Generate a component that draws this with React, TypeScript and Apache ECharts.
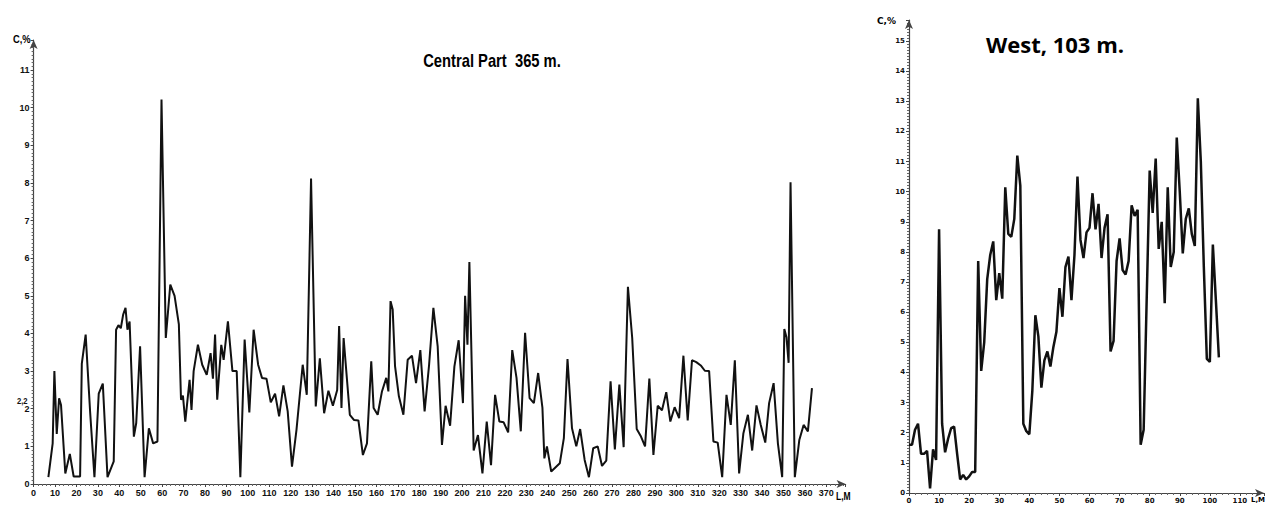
import React, { useEffect, useRef } from "react";
import * as echarts from "echarts";

// Central Part, 365 m: distance L (m) and content C (%)
const centralL = [
  6.9, 8.9, 9.7, 10.8, 11.9, 12.8, 14.8, 16.9, 18.7, 21.7, 22.5, 24.3, 26.4, 28.4, 30.4, 32.3, 34.5, 37.4, 38.5, 39.6,
  40.7, 41.8, 42.9, 43.8, 44.8, 46.8, 47.9, 49.7, 51.8, 53.8, 55.8, 57.8, 59.7, 61.7, 63.8, 65.8, 67.8, 68.8, 69.7, 70.8,
  72.8, 73.7, 74.7, 76.7, 78.7, 80.8, 82.6, 83.7, 84.7, 85.7, 87.6, 88.7, 90.7, 92.8, 94.8, 96.5,
  98.5, 100.7, 102.7, 104.8, 106.6, 108.7, 110.7, 112.7, 114.6, 116.6, 118.6, 120.6, 122.7, 125.6, 127.5, 129.5, 131.7, 133.6, 135.6, 137.6,
  139.7, 141.7, 142.6, 143.7, 144.7, 147.6, 149.6, 151.6, 153.7, 155.6, 157.6, 158.7, 160.6, 162.6, 164.6, 165.6, 166.6, 167.6, 168.7, 170.5,
  172.6, 174.6, 176.6, 178.5, 180.5, 182.5, 184.6, 186.6, 188.6, 190.6,
  192.3, 194.4, 196.4, 198.4, 200.4, 201.4, 202.5, 203.4, 205.4, 207.4, 209.5, 211.5, 213.5, 215.4, 217.4, 219.4, 221.5, 223.4, 225.4, 227.4,
  229.4, 231.5, 233.5, 235.5, 237.5, 238.4, 239.6, 241.6, 245.6, 247.5, 249.2, 251.3, 253.3, 255.1, 257.2, 259.2, 261.2, 263.3, 265.3, 267.3,
  269.3, 271.3, 273.4, 275.4, 277.4, 279.4, 281.5, 283.5, 285.4, 287.4,
  289.3, 291.3, 293.3, 295.3, 297.2, 299.2, 301.3, 303.3, 305.3, 307.3, 309.3, 311.4, 313.3, 315.3, 317.3, 319.3, 321.4, 323.4, 325.4, 327.3,
  329.3, 331.3, 333.4, 335.4, 337.4, 339.4, 341.5, 343.3, 345.4, 347.4, 349.4, 350.4, 351.4, 352.4, 353.3, 355.3, 357.4, 359.4, 361.4, 363.3,
];
const centralC = [
  0.18, 1.08, 3.0, 1.33, 2.28, 2.1, 0.28, 0.8, 0.2, 0.2, 3.2, 3.97, 1.9, 0.18, 2.4, 2.67, 0.18, 0.6, 4.1, 4.22,
  4.14, 4.5, 4.68, 4.1, 4.32, 1.26, 1.62, 3.66, 0.18, 1.48, 1.08, 1.13, 10.22, 3.88, 5.3, 5.0, 4.24, 2.24, 2.35, 1.66,
  2.77, 1.97, 3.0, 3.7, 3.17, 2.9, 3.48, 2.8, 3.97, 2.24, 3.7, 3.3, 4.32, 3.0, 3.0, 0.18,
  3.84, 1.9, 4.1, 3.17, 2.82, 2.8, 2.17, 2.4, 1.8, 2.62, 1.93, 0.46, 1.44, 3.17, 2.37, 8.12, 2.06, 3.34, 1.88, 2.48,
  2.08, 2.5, 4.2, 2.02, 3.88, 1.84, 1.7, 1.69, 0.77, 1.08, 3.26, 2.02, 1.84, 2.46, 2.82, 2.46, 4.86, 4.64, 3.13, 2.33,
  1.84, 3.3, 3.41, 2.68, 3.56, 1.93, 3.17, 4.68, 3.66, 1.04,
  2.08, 1.55, 3.12, 3.82, 2.15, 5.0, 3.7, 5.9, 0.89, 1.3, 0.28, 1.66, 0.5, 2.37, 1.66, 1.64, 1.37, 3.56, 2.82, 1.4,
  4.02, 2.28, 2.15, 2.95, 2.02, 0.68, 1.0, 0.33, 0.55, 1.22, 3.32, 1.48, 1.0, 1.46, 0.64, 0.18, 0.95, 1.0, 0.48, 0.62,
  2.73, 0.92, 2.64, 0.98, 5.24, 3.88, 1.46, 1.26, 1.0, 2.8,
  0.77, 2.08, 1.96, 2.44, 1.66, 2.04, 1.75, 3.41, 1.69, 3.29, 3.24, 3.15, 3.01, 3.0, 1.13, 1.1, 0.18, 2.37, 1.57, 3.29,
  0.28, 1.35, 1.84, 0.89, 2.09, 1.57, 1.1, 2.15, 2.68, 1.08, 0.18, 4.12, 3.9, 3.22, 8.02, 0.18, 1.17, 1.57, 1.4, 2.55,
];
const centralMean = 2.2;
const centralMeanLabel = "2,2";

// West, 103 m
const westL = [
  0, 1, 2, 3, 4, 5, 6, 7, 8, 9, 10, 11, 12, 13, 14, 15, 16, 17, 18, 19, 20, 21, 22, 23, 24, 25, 26, 27, 28, 29,
  30, 31, 32, 33, 34, 35, 36, 37, 38, 39, 40, 41, 42, 43, 44, 45, 46, 47, 48, 49, 50, 51, 52, 53, 54, 55, 56, 57, 58, 59,
  60, 61, 62, 63, 64, 65, 66, 67, 68, 69, 70, 71, 72, 73, 74, 75, 76, 77, 78, 80, 81, 82, 83, 84, 85, 86, 87, 88, 89,
  90, 91, 92, 93, 94, 95, 96, 97, 98, 99, 100, 101, 102, 103,
];
const westC = [
  1.6, 1.6, 2.1, 2.3, 1.3, 1.3, 1.4, 0.15, 1.45, 1.1, 8.75, 2.3, 1.35, 1.8, 2.15, 2.2, 1.3, 0.45, 0.6, 0.45, 0.55, 0.7, 0.7, 7.7, 4.05, 5.0, 7.1, 7.9, 8.35, 6.4,
  7.3, 6.45, 10.15, 8.6, 8.5, 9.1, 11.2, 10.2, 2.3, 2.05, 1.95, 3.4, 5.9, 5.2, 3.5, 4.4, 4.7, 4.2, 4.85, 5.35, 6.8, 5.85, 7.5, 7.85, 6.4, 7.9, 10.5, 8.4, 7.8, 8.65,
  8.8, 9.95, 8.75, 9.6, 7.8, 8.8, 9.25, 4.7, 5.05, 7.7, 8.45, 7.4, 7.25, 7.7, 9.55, 9.2, 9.4, 1.6, 2.1, 10.7, 9.3, 11.1, 8.1, 9.0, 6.3, 10.15, 7.5, 8.0, 11.8,
  10.0, 7.95, 9.1, 9.45, 8.6, 8.2, 13.1, 11.0, 7.5, 4.45, 4.35, 8.25, 6.4, 4.5,
];

const titles = ["Central Part  365 m.", "West, 103 m."];
const yName = "C,%";
const xName = "L,M";

const narrow = '"Liberation Sans Narrow", "Liberation Sans", Arial, sans-serif';

function axisCommon(fontFamily: string, fontSize: number) {
  return {
    axisLine: {
      show: true,
      symbol: ["none", "arrow"],
      symbolSize: [6, 9],
      lineStyle: { color: "#444", width: 1.2 },
    },
    axisTick: { show: true, length: 3, lineStyle: { color: "#444", width: 1 } },
    minorTick: { show: true, splitNumber: 5, length: 2, lineStyle: { color: "#666", width: 1 } },
    splitLine: { show: false },
    axisLabel: {
      color: "#111",
      fontFamily,
      fontWeight: "bold" as const,
      fontSize,
      margin: 4,
      showMaxLabel: false,
    },
  };
}

export default function App() {
  const ref = useRef<HTMLDivElement>(null);
  useEffect(() => {
    if (!ref.current) return;
    const chart = echarts.init(ref.current, undefined, { renderer: "svg" });
    const leftAx = axisCommon(narrow, 9);
    const rightAx = axisCommon('"DejaVu Sans", sans-serif', 7);
    const baseGraphic: any[] = [
      { type: "text", x: 492, y: 60, scaleX: 0.82, style: { text: titles[0], font: 'bold 18px "Liberation Sans", Arial, sans-serif', fill: "#000", textAlign: "center", textVerticalAlign: "middle" } },
      { type: "text", x: 1055, y: 44, style: { text: titles[1], font: 'bold 22px "Open Sans", sans-serif', fill: "#000", textAlign: "center", textVerticalAlign: "middle" } },
      { type: "text", x: 13, y: 34, scaleX: 0.85, style: { text: yName, font: 'bold 11px "Liberation Sans", Arial, sans-serif', fill: "#000" } },
      { type: "text", x: 877, y: 16, style: { text: yName, font: 'bold 9px "DejaVu Sans", sans-serif', fill: "#000" } },
      { type: "text", x: 836, y: 492, scaleX: 0.85, style: { text: xName, font: 'bold 10px "Liberation Sans", Arial, sans-serif', fill: "#000" } },
      { type: "text", x: 1251, y: 496, style: { text: xName, font: 'bold 7px "DejaVu Sans", sans-serif', fill: "#000" } },
    ];
    chart.setOption({
      animation: false,
      backgroundColor: "#fff",
      grid: [
        { left: 33.6, top: 40, width: 812, height: 444 },
        { left: 909, top: 20, width: 355, height: 473 },
      ],
      xAxis: [
        { type: "value", gridIndex: 0, min: 0, max: 379, interval: 10, ...leftAx },
        { type: "value", gridIndex: 1, min: 0, max: 118, interval: 10, ...rightAx },
      ],
      yAxis: [
        { type: "value", gridIndex: 0, min: 0, max: 11.8, interval: 1, ...leftAx,
          minorTick: { ...leftAx.minorTick, splitNumber: 10 } },
        { type: "value", gridIndex: 1, min: 0, max: 15.7, interval: 1, ...rightAx,
          minorTick: { ...rightAx.minorTick, splitNumber: 10 } },
      ],
      graphic: baseGraphic,
      series: [
        {
          type: "line",
          xAxisIndex: 0,
          yAxisIndex: 0,
          data: centralL.map((l, i) => [l, centralC[i]]),
          showSymbol: false,
          lineStyle: { color: "#111", width: 2 },
        },
        {
          type: "line",
          xAxisIndex: 1,
          yAxisIndex: 1,
          data: westL.map((l, i) => [l, westC[i]]),
          showSymbol: false,
          lineStyle: { color: "#111", width: 2.5 },
        },
      ],
    });
    // place the mean label "2,2" on the y-axis through the library's scale
    const p = chart.convertToPixel({ gridIndex: 0 }, [0, centralMean]) as number[];
    if (p) {
      chart.setOption({
        graphic: [
          ...baseGraphic,
          { type: "text", x: p[0] - 6, y: p[1], scaleX: 0.85, style: { text: centralMeanLabel, font: 'bold 9px "Liberation Sans", Arial, sans-serif', fill: "#111", textAlign: "right", textVerticalAlign: "middle" } },
        ],
      });
    }
    return () => chart.dispose();
  }, []);
  return (
    <div
      ref={ref}
      style={{ position: "absolute", left: 0, top: 0, width: 1267, height: 505, background: "#fff" }}
    />
  );
}
